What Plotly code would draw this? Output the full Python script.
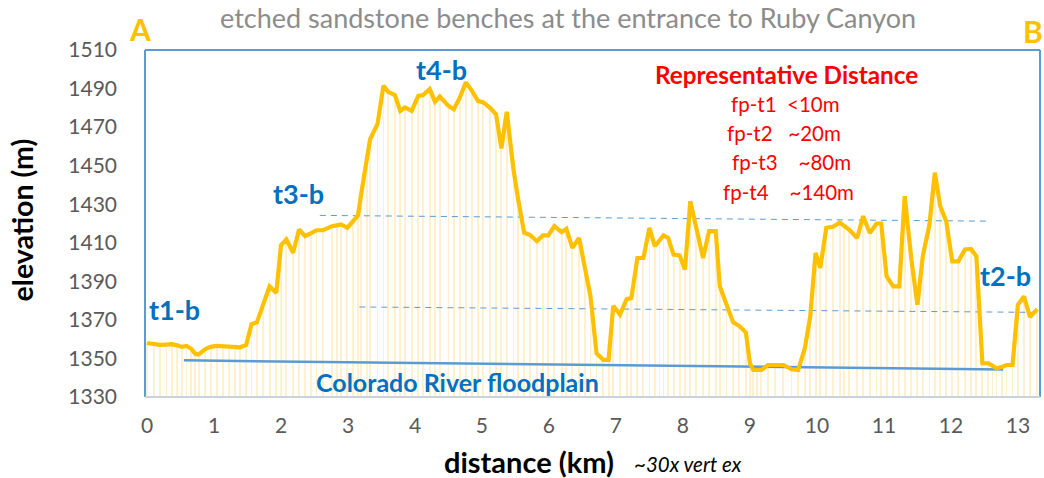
import plotly.graph_objects as go

# profile distance (km) and elevation (m)
dist_km = [0.0, 0.1, 0.19, 0.29, 0.37, 0.45, 0.52, 0.59, 0.66, 0.72, 0.77, 0.87, 0.95, 1.04, 1.13, 1.22, 1.31, 1.39,
           1.48, 1.56, 1.64, 1.73, 1.83, 1.93, 2.0, 2.08, 2.18, 2.27, 2.36, 2.45, 2.53, 2.63, 2.76, 2.83,
           2.9, 2.99, 3.07, 3.15, 3.2, 3.28, 3.33, 3.44, 3.53, 3.6, 3.7, 3.78, 3.85, 3.95, 4.05, 4.12,
           4.22, 4.3, 4.37, 4.5, 4.58, 4.67, 4.76, 4.85, 4.94, 5.02, 5.12, 5.21, 5.29, 5.37, 5.47, 5.54,
           5.63, 5.72, 5.82, 5.91, 5.99, 6.08, 6.19, 6.26, 6.35, 6.45, 6.54, 6.62, 6.71, 6.81, 6.89,
           6.96, 7.06, 7.16, 7.23, 7.32, 7.41, 7.5, 7.58, 7.65, 7.71, 7.78, 7.86, 7.95, 8.03, 8.11, 8.2,
           8.3, 8.39, 8.49, 8.55, 8.65, 8.75, 8.84, 8.94, 9.0, 9.05, 9.11, 9.17, 9.27, 9.38, 9.5, 9.62,
           9.72, 9.82, 9.9, 9.98, 10.05, 10.14, 10.24, 10.34, 10.41, 10.48, 10.6, 10.69, 10.79, 10.89,
           10.96, 11.04, 11.14, 11.23, 11.31, 11.41, 11.5, 11.58, 11.68, 11.76, 11.84, 11.93, 12.02,
           12.11, 12.21, 12.3, 12.38, 12.47, 12.56, 12.62, 12.68, 12.76, 12.83, 12.92, 13.0, 13.09,
           13.18, 13.29]
elev_m = [1358.0, 1357.6, 1357.0, 1357.2, 1357.4, 1356.8, 1356.0, 1356.5, 1355.0, 1352.4, 1352.0, 1354.8, 1356.0,
          1356.5, 1356.3, 1356.2, 1356.0, 1355.8, 1357.0, 1367.8, 1368.7, 1377.5, 1387.4, 1384.0, 1408.7,
          1411.7, 1404.8, 1416.9, 1413.4, 1415.0, 1416.5, 1416.5, 1418.6, 1419.0, 1419.5, 1417.8, 1421.0,
          1424.2, 1436.0, 1454.2, 1463.7, 1471.5, 1491.5, 1488.3, 1486.6, 1478.4, 1480.2, 1478.4, 1486.2,
          1486.6, 1489.7, 1483.1, 1485.9, 1481.0, 1479.3, 1485.4, 1493.2, 1488.8, 1483.6, 1482.8, 1480.0,
          1476.7, 1458.9, 1478.0, 1448.1, 1432.5, 1415.2, 1414.0, 1410.8, 1413.8, 1413.8, 1418.6, 1415.5,
          1417.2, 1407.4, 1412.5, 1396.1, 1382.2, 1352.7, 1349.3, 1349.3, 1377.3, 1372.7, 1380.8, 1381.3,
          1402.1, 1402.1, 1417.7, 1408.2, 1411.0, 1413.8, 1412.5, 1403.9, 1403.4, 1396.1, 1431.6, 1416.9,
          1402.1, 1416.0, 1416.0, 1387.4, 1378.7, 1368.7, 1366.9, 1363.5, 1347.5, 1344.0, 1344.0, 1344.0,
          1346.6, 1346.6, 1346.6, 1344.4, 1344.0, 1355.3, 1371.8, 1404.7, 1397.0, 1417.8, 1418.3, 1420.5,
          1418.5, 1416.9, 1412.5, 1423.8, 1415.1, 1420.0, 1420.0, 1392.6, 1387.4, 1387.4, 1434.2, 1401.3,
          1377.9, 1403.0, 1419.5, 1446.4, 1429.0, 1421.2, 1400.4, 1400.4, 1406.5, 1406.8, 1403.0, 1347.5,
          1347.5, 1346.5, 1344.9, 1345.6, 1346.6, 1346.6, 1377.9, 1382.2, 1371.5, 1375.6]

# reference lines (km, m)
floodplain_x = [0.55, 12.78]
floodplain_y = [1349.0, 1344.3]
t3_level_x = [2.58, 12.58]
t3_level_y = [1424.2, 1421.2]
t2_level_x = [3.17, 13.28]
t2_level_y = [1376.7, 1373.9]

x_ticks = list(range(0, 14))
y_ticks = list(range(1330, 1511, 20))

bench_labels = ["t1-b", "t3-b", "t4-b", "t2-b"]
bench_x = [0.41, 2.26, 4.40, 12.82]
bench_y = [1375.5, 1435.5, 1500.0, 1393.0]

legend_title = "Representative Distance"
legend_lines = ["fp-t1  <10m", "fp-t2   ~20m", "fp-t3    ~80m", "fp-t4    ~140m"]

BLUE = "#5B9BD5"
DARKBLUE = "#0070C0"
GOLD = "#FFC000"
FONT = "Lato"

fig = go.Figure()

# faint vertical stripes under the profile
fig.add_trace(go.Bar(x=dist_km, y=elev_m, width=0.028,
                     marker=dict(color="rgba(255,210,100,0.32)", line=dict(width=0)),
                     hoverinfo="skip", showlegend=False))

fig.add_trace(go.Scatter(x=floodplain_x, y=floodplain_y, mode="lines",
                         line=dict(color=BLUE, width=2.5), showlegend=False))
fig.add_trace(go.Scatter(x=t3_level_x, y=t3_level_y, mode="lines",
                         line=dict(color=BLUE, width=1, dash="6px,5px"), showlegend=False))
fig.add_trace(go.Scatter(x=t2_level_x, y=t2_level_y, mode="lines",
                         line=dict(color=BLUE, width=1, dash="6px,5px"), showlegend=False))

fig.add_trace(go.Scatter(x=dist_km, y=elev_m, mode="lines",
                         line=dict(color=GOLD, width=4.2), showlegend=False))

# plot frame (blue left/top/right)
fig.add_shape(type="line", xref="paper", yref="paper", x0=0, x1=0, y0=0, y1=1,
              line=dict(color=BLUE, width=2))
fig.add_shape(type="line", xref="paper", yref="paper", x0=0, x1=1, y0=1, y1=1,
              line=dict(color=BLUE, width=2))
fig.add_shape(type="line", xref="paper", yref="paper", x0=1, x1=1, y0=0, y1=1,
              line=dict(color=BLUE, width=2))
fig.add_shape(type="line", xref="paper", yref="paper", x0=0, x1=1, y0=0, y1=0,
              line=dict(color="#C9D3E0", width=2))


def note(x, y, text, size, color, xref="paper", yref="paper", angle=0):
    return dict(x=x, y=y, xref=xref, yref=yref, text=text, showarrow=False, textangle=angle,
                xanchor="center", yanchor="middle",
                font=dict(family=FONT, size=size, color=color))


ann = []
for t, x, y in zip(bench_labels, bench_x, bench_y):
    ann.append(note(x, y, f"<b>{t}</b>", 27, DARKBLUE, "x", "y"))
ann.append(note(4.63, 1338.0, "<b>Colorado River floodplain</b>", 25, DARKBLUE, "x", "y"))
ann.append(note(0.717, 0.928, f"<b>{legend_title}</b>", 24.3, "#FF0000"))
for txt, yy, xx in zip(legend_lines, [0.843, 0.760, 0.676, 0.590],
                       [0.716, 0.714, 0.722, 0.719]):
    safe = txt.replace("<", "&lt;").replace(" ", "&nbsp;")
    ann.append(note(xx, yy, safe, 20.5, "#FF0000"))
ann.append(note(-0.0056, 1.06, "<b>A</b>", 30, GOLD))
ann.append(note(0.992, 1.054, "<b>B</b>", 30, GOLD))
ann.append(note(0.473, 1.095, "etched sandstone benches at the entrance to Ruby Canyon", 27, "#8C8C8C"))
ann.append(note(0.429, -0.187, "<b>distance (km)</b>", 29, "#000000"))
ann.append(note(0.607, -0.193, "<i>~30x vert ex</i>", 20.5, "#000000"))
ann.append(note(-0.137, 0.51, "<b>elevation (m)</b>", 28.5, "#000000", angle=-90))

fig.update_layout(
    width=1044, height=478,
    margin=dict(l=145, r=4, t=50, b=81),
    paper_bgcolor="white", plot_bgcolor="white",
    bargap=0,
    annotations=ann,
    font=dict(family=FONT),
)
fig.update_xaxes(range=[-0.03, 13.33], tickvals=x_ticks, ticktext=[str(v) for v in x_ticks],
                 showgrid=False, zeroline=False, showline=False, ticks="",
                 tickfont=dict(family=FONT, size=21, color="#595959"), ticklabelstandoff=14)
fig.update_yaxes(range=[1330, 1510], tickvals=y_ticks, ticktext=[str(v) for v in y_ticks],
                 showgrid=False, zeroline=False, showline=False, ticks="",
                 tickfont=dict(family=FONT, size=21, color="#595959"), ticklabelstandoff=27)

fig.write_html("out.html", config={"displayModeBar": False},
               post_script="document.body.style.margin='0';")
